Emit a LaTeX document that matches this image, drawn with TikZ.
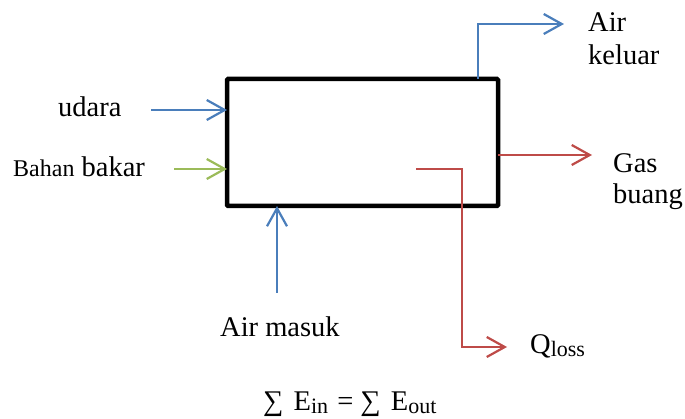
\documentclass[tikz,border=0pt]{standalone}
\usepackage{fontspec}
\setmainfont{Liberation Serif}
\usetikzlibrary{arrows.meta}
\definecolor{cblue}{RGB}{74,126,187}
\definecolor{cgreen}{RGB}{155,187,89}
\definecolor{cred}{RGB}{190,75,72}
\newcommand{\subtx}[1]{\raisebox{-3.5pt}{\fontsize{22}{24}\selectfont #1}}
\tikzset{
  flow/.style={line width=2.2pt, -{Straight Barb[length=18pt,width=20pt,line width=2.2pt]}},
  lbl/.style={anchor=base west, inner sep=0pt, font=\fontsize{28.5}{32}\selectfont},
  boxst/.style={draw=black, line width=4.5pt, minimum width=271pt, minimum height=127pt, inner sep=0pt, rounded corners=1pt},
}
\begin{document}
\begin{tikzpicture}[x=1pt,y=-1pt]
\useasboundingbox (0,0) rectangle (685,419);
% box
\node[boxst] (box) at (362.5,142.5) {};
% coordinates
\coordinate (uS) at (151,110);
\coordinate (uE) at (227,110);
\coordinate (bS) at (174,169);
\coordinate (bE) at (227,169);
\coordinate (amS) at (277,293);
\coordinate (amE) at (277,206);
\coordinate (akS) at (478,79);
\coordinate (akC) at (478,24);
\coordinate (akE) at (564,24);
\coordinate (gS) at (498,155);
\coordinate (gE) at (592,155);
\coordinate (qS) at (416,169);
\coordinate (qC1) at (462,169);
\coordinate (qC2) at (462,347);
\coordinate (qE) at (507,347);
% arrows
\draw[flow, cblue] (uS) -- (uE);
\draw[flow, cgreen] (bS) -- (bE);
\draw[flow, cblue] (amS) -- (amE);
\draw[flow, cblue] (akS) -- (akC) -- (akE);
\draw[flow, cred] (gS) -- (gE);
\draw[flow, cred] (qS) -- (qC1) -- (qC2) -- (qE);
% labels
\node[lbl] (udara) at (58,117) {udara};
\node[lbl] (bahan) at (13,177) {{\fontsize{24}{28}\selectfont Bahan} bakar};
\node[lbl] (air1) at (588,32) {Air};
\node[lbl] (air2) at (588,65) {keluar};
\node[lbl] (gas1) at (613,173) {Gas};
\node[lbl] (gas2) at (613,204) {buang};
\node[lbl] (masuk) at (220,337) {Air masuk};
\node[lbl] (qloss) at (530,353) {Q\subtx{loss}};
\node[lbl] (eq) at (263,410) {∑\hspace{3pt} E\subtx{in}\hspace{2pt} = ∑\hspace{3pt} E\subtx{out}};
\end{tikzpicture}
\end{document}
